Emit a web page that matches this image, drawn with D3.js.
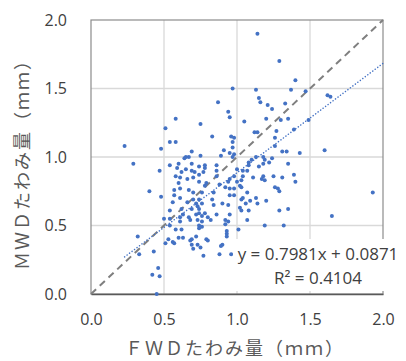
<!DOCTYPE html>
<html>
<head>
<meta charset="utf-8">
<script src="https://cdn.jsdelivr.net/npm/d3@7"></script>
<style>
  body { margin: 0; background: #fff; }
  svg { display: block; }
</style>
</head>
<body>
<div id="chart"></div>
<script>
// FWD deflection (x) and MWD deflection (y), mm
const fwd = [
  1.14, 1.29, 1.40, 0.97, 1.13, 1.37, 1.47, 1.15, 1.62, 1.64,
  0.87, 1.16, 1.21, 1.33, 1.24, 0.94, 0.95, 1.20, 1.30, 1.35,
  1.49, 1.05, 0.58, 0.51, 0.75, 1.27, 1.39, 1.12, 1.14, 0.83,
  1.26, 0.96, 0.98, 0.54, 0.58, 0.97, 0.23, 1.26, 0.97, 0.48,
  0.69, 0.91, 1.31, 1.34, 1.60, 1.43, 0.95, 0.98, 0.75, 0.89,
  0.65, 0.67, 0.64, 0.97, 1.13, 1.18, 1.24, 1.10, 1.19, 1.08,
  1.22, 1.35, 0.29, 0.54, 0.60, 0.69, 0.78, 0.86, 0.74, 0.78,
  1.08, 1.15, 1.18, 1.00, 0.65, 0.59, 0.47, 0.69, 0.86, 1.04,
  1.07, 0.62, 0.71, 0.77, 0.58, 0.86, 0.74, 0.70, 0.98, 1.04,
  1.11, 1.18, 1.25, 1.39, 1.31, 0.61, 0.66, 0.95, 1.03, 1.17,
  1.19, 1.40, 1.00, 0.94, 0.74, 0.79, 0.60, 0.88, 1.02, 0.78,
  0.61, 0.67, 0.57, 1.03, 0.98, 0.95, 0.92, 1.26, 1.28, 1.29,
  0.40, 1.93, 1.07, 0.84, 0.76, 0.70, 0.48, 0.57, 0.61, 0.95,
  0.98, 0.70, 0.74, 0.83, 1.03, 1.04, 1.20, 1.09, 1.13, 0.56,
  0.66, 0.72, 0.76, 0.90, 0.94, 1.14, 1.06, 0.84, 1.02, 0.69,
  0.74, 0.73, 0.62, 0.54, 1.29, 1.35, 1.08, 1.03, 0.78, 0.86,
  0.95, 0.74, 0.72, 0.76, 0.80, 0.63, 0.61, 0.67, 1.65, 1.07,
  0.54, 0.50, 0.68, 0.73, 0.76, 0.82, 0.92, 0.94, 0.61, 0.54,
  0.74, 0.76, 1.19, 1.32, 0.92, 0.74, 0.58, 1.01, 0.93, 0.93,
  0.62, 0.93, 0.32, 0.60, 0.63, 0.53, 0.56, 0.57, 0.69, 0.68,
  0.79, 0.80, 0.72, 0.73, 0.69, 0.70, 0.75, 0.90, 0.89, 0.51,
  0.43, 0.33, 0.77, 0.88, 0.96, 0.46, 0.42, 0.47, 0.45
];
const mwd = [
  1.90, 1.70, 1.56, 1.50, 1.49, 1.49, 1.48, 1.43, 1.45, 1.44,
  1.40, 1.40, 1.38, 1.39, 1.35, 1.33, 1.29, 1.28, 1.27, 1.28,
  1.27, 1.26, 1.28, 1.21, 1.24, 1.19, 1.20, 1.18, 1.18, 1.15,
  1.14, 1.15, 1.14, 1.11, 1.11, 1.11, 1.08, 1.08, 1.07, 1.06,
  1.04, 1.05, 1.04, 1.04, 1.05, 1.03, 1.03, 1.02, 1.01, 1.01,
  1.00, 1.00, 0.99, 1.00, 1.00, 1.00, 0.99, 0.98, 0.98, 0.96,
  0.96, 0.95, 0.95, 0.94, 0.95, 0.95, 0.94, 0.94, 0.93, 0.92,
  0.94, 0.93, 0.95, 0.91, 0.91, 0.92, 0.90, 0.90, 0.90, 0.90,
  0.90, 0.89, 0.89, 0.89, 0.86, 0.86, 0.87, 0.85, 0.86, 0.86,
  0.85, 0.86, 0.86, 0.87, 0.85, 0.85, 0.84, 0.84, 0.83, 0.84,
  0.83, 0.82, 0.82, 0.82, 0.82, 0.81, 0.81, 0.80, 0.79, 0.79,
  0.77, 0.76, 0.76, 0.78, 0.77, 0.77, 0.78, 0.78, 0.77, 0.75,
  0.75, 0.74, 0.74, 0.74, 0.74, 0.74, 0.71, 0.72, 0.70, 0.72,
  0.72, 0.69, 0.69, 0.69, 0.69, 0.70, 0.68, 0.68, 0.70, 0.67,
  0.67, 0.66, 0.66, 0.66, 0.65, 0.66, 0.66, 0.65, 0.63, 0.62,
  0.62, 0.64, 0.62, 0.61, 0.61, 0.62, 0.61, 0.61, 0.59, 0.58,
  0.58, 0.59, 0.58, 0.57, 0.56, 0.58, 0.56, 0.56, 0.57, 0.54,
  0.55, 0.55, 0.54, 0.54, 0.53, 0.54, 0.54, 0.53, 0.53, 0.50,
  0.50, 0.49, 0.50, 0.50, 0.51, 0.48, 0.47, 0.47, 0.46, 0.44,
  0.47, 0.42, 0.42, 0.41, 0.41, 0.40, 0.38, 0.37, 0.40, 0.39,
  0.40, 0.39, 0.42, 0.36, 0.36, 0.33, 0.34, 0.36, 0.35, 0.37,
  0.31, 0.29, 0.28, 0.29, 0.29, 0.19, 0.14, 0.13, 0.00
];
const xTicks = [0, 0.5, 1.0, 1.5, 2.0];
const yTicks = [0, 0.5, 1.0, 1.5, 2.0];
const slope = 0.7981;
const intercept = 0.0871;
const rSquared = 0.4104;
const trendRange = [0.23, 2.0];
const xTitle = 'ＦＷＤたわみ量（ｍｍ）';
const yTitle = 'ＭＷＤたわみ量（ｍｍ）';

const W = 406, H = 361;
const margin = { top: 20, right: 23, bottom: 67, left: 91 };
const width = W - margin.left - margin.right;
const height = H - margin.top - margin.bottom;

const svg = d3.select('#chart').append('svg')
  .attr('width', W)
  .attr('height', H);

const g = svg.append('g')
  .attr('transform', `translate(${margin.left},${margin.top})`);

const x = d3.scaleLinear().domain([0, 2]).range([0, width]);
const y = d3.scaleLinear().domain([0, 2]).range([height, 0]);

const numFont = '"Open Sans", "Noto Sans", sans-serif';
const jpFont = '"Noto Sans CJK JP"';

// gridlines
g.append('g')
  .selectAll('line')
  .data(xTicks.slice(1, -1))
  .enter().append('line')
  .attr('x1', d => x(d)).attr('x2', d => x(d))
  .attr('y1', 0).attr('y2', height)
  .attr('stroke', '#d9d9d9').attr('stroke-width', 1.3);

g.append('g')
  .selectAll('line')
  .data(yTicks.slice(1, -1))
  .enter().append('line')
  .attr('x1', 0).attr('x2', width)
  .attr('y1', d => y(d)).attr('y2', d => y(d))
  .attr('stroke', '#d9d9d9').attr('stroke-width', 1.3);

// plot frame
g.append('rect')
  .attr('x', 0).attr('y', 0)
  .attr('width', width).attr('height', height)
  .attr('fill', 'none')
  .attr('stroke', '#8c8c8c')
  .attr('stroke-width', 1.2);

const xAxis = g.append('g')
  .attr('transform', `translate(0,${height})`)
  .call(d3.axisBottom(x).tickValues(xTicks).tickFormat(d3.format('.1f')).tickSize(0).tickPadding(20));
xAxis.select('.domain').attr('stroke', '#595959').attr('stroke-width', 1.3);
xAxis.selectAll('.tick text')
  .style('font-family', numFont).style('font-size', '16px').attr('fill', '#404040');

const yAxis = g.append('g')
  .call(d3.axisLeft(y).tickValues(yTicks).tickFormat(d3.format('.1f')).tickSize(0).tickPadding(24));
yAxis.select('.domain').remove();
yAxis.selectAll('.tick text')
  .style('font-family', numFont).style('font-size', '16px').attr('fill', '#404040');

// 1:1 line
g.append('line')
  .attr('x1', x(0)).attr('y1', y(0))
  .attr('x2', x(2)).attr('y2', y(2))
  .attr('stroke', '#7f7f7f')
  .attr('stroke-width', 2)
  .attr('stroke-dasharray', '7,5');

// points
g.append('g')
  .selectAll('circle')
  .data(fwd.map((v, i) => [v, mwd[i]]))
  .enter().append('circle')
  .attr('cx', d => x(d[0]))
  .attr('cy', d => y(d[1]))
  .attr('r', 2)
  .attr('fill', '#4472c4');

// linear trendline
g.append('line')
  .attr('x1', x(trendRange[0])).attr('y1', y(slope * trendRange[0] + intercept))
  .attr('x2', x(trendRange[1])).attr('y2', y(slope * trendRange[1] + intercept))
  .attr('stroke', '#4472c4')
  .attr('stroke-width', 1.5)
  .attr('stroke-linecap', 'round')
  .attr('stroke-dasharray', '0.1,3');

// equation label with white background
const lbl = svg.append('g');
lbl.append('rect')
  .attr('x', 233).attr('y', 239)
  .attr('width', 173).attr('height', 52)
  .attr('fill', '#fff');
lbl.append('text')
  .attr('x', 318).attr('y', 260)
  .attr('text-anchor', 'middle')
  .style('font-family', numFont).style('font-size', '17px').attr('fill', '#404040')
  .text(`y = ${slope}x + ${intercept}`);
lbl.append('text')
  .attr('x', 318).attr('y', 284)
  .attr('text-anchor', 'middle')
  .style('font-family', numFont).style('font-size', '17px').attr('fill', '#404040')
  .text(`R² = ${rSquared}`);

// axis titles, one full-width cell per character
const pitch = 20;
svg.append('g')
  .attr('transform', 'translate(124,355)')
  .selectAll('text')
  .data(Array.from(xTitle))
  .enter().append('text')
  .attr('x', (d, i) => pitch * (i + 0.5))
  .attr('text-anchor', 'middle')
  .style('font-family', jpFont).style('font-size', '18px').attr('fill', '#595959')
  .text(d => d);

svg.append('g')
  .attr('transform', 'translate(29,271) rotate(-90)')
  .selectAll('text')
  .data(Array.from(yTitle))
  .enter().append('text')
  .attr('x', (d, i) => pitch * (i + 0.5))
  .attr('text-anchor', 'middle')
  .style('font-family', jpFont).style('font-size', '18px').attr('fill', '#595959')
  .text(d => d);
</script>
</body>
</html>
